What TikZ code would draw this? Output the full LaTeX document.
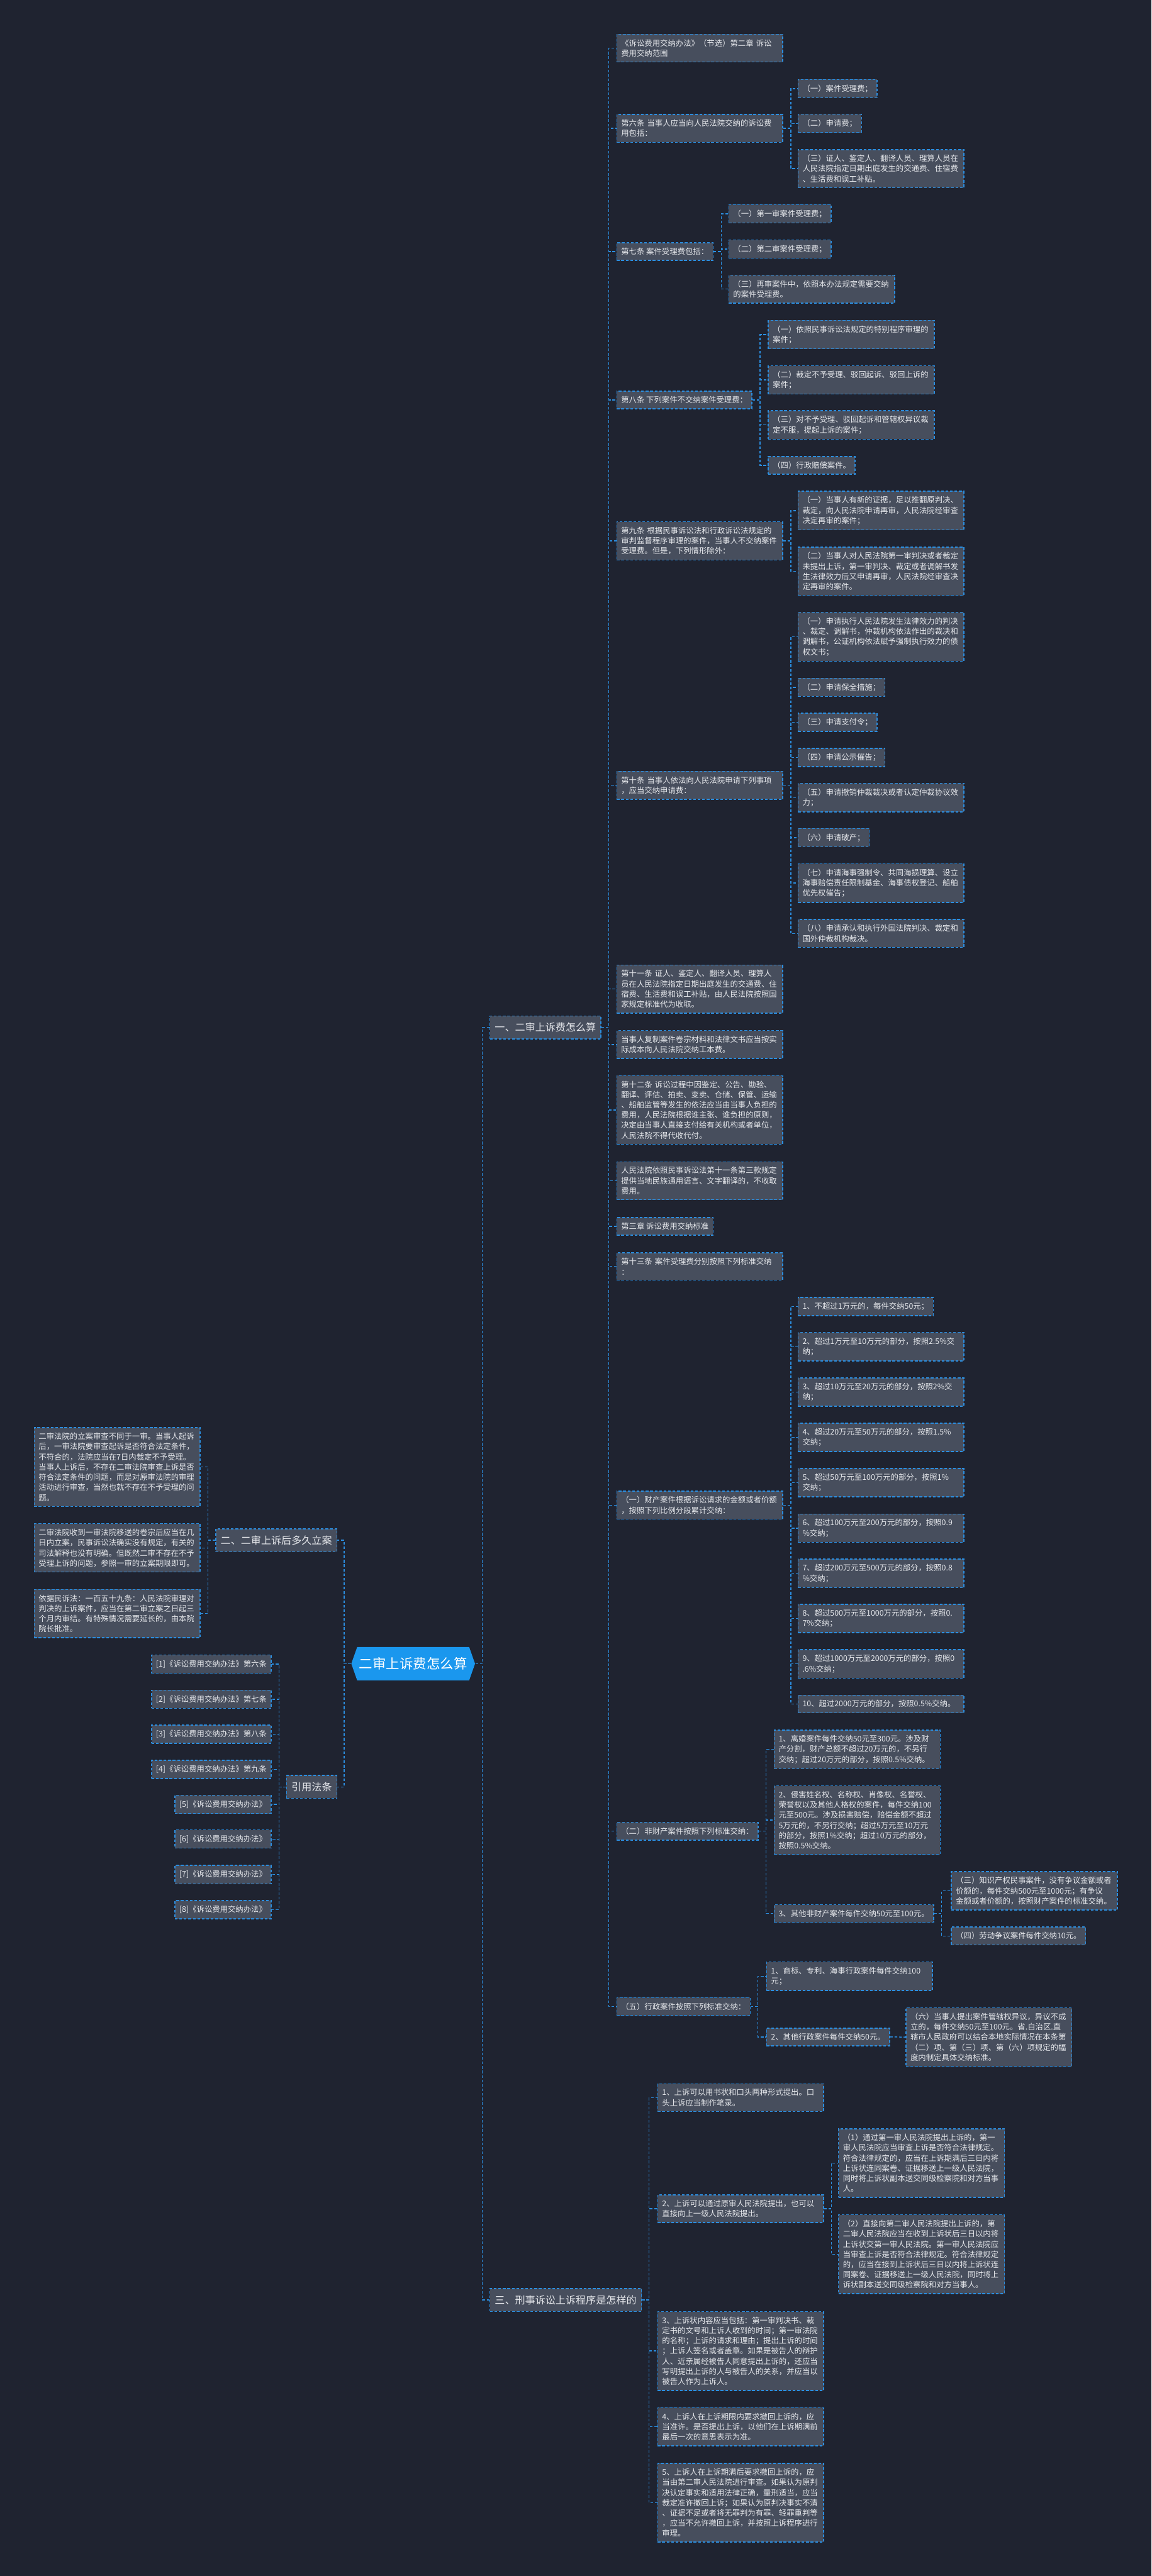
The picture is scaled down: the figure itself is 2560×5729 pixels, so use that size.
\documentclass[tikz,border=0pt]{standalone}
\usepackage{fontspec}
\setmainfont{Noto Sans CJK SC}

\definecolor{bgcol}{HTML}{1F2330}
\definecolor{boxfill}{HTML}{474E5D}
\definecolor{linkblue}{HTML}{2B8EE0}
\definecolor{txtcol}{HTML}{E6E8EC}
\definecolor{rootfill}{HTML}{1A97EE}

\tikzset{every picture/.style={line width=2pt}}
\tikzset{
  box/.style={draw=linkblue, dash pattern=on 6pt off 4pt, fill=boxfill, text=txtcol,
    inner xsep=10pt, inner ysep=11.5pt, font=\fontsize{17.3}{22.7}\selectfont},
  wide/.style={box, text width=349pt, align=left},
  branch/.style={box, inner xsep=11pt, inner ysep=15pt, font=\fontsize{22.5}{27}\selectfont},
  link/.style={draw=linkblue, dash pattern=on 6pt off 4pt},
}

\begin{document}
\begin{tikzpicture}[x=1pt,y=1pt,yscale=-1,xscale=1]
		\useasboundingbox (0,0) rectangle (2560,5729);
		\fill [bgcol] (0,0) rectangle (2560,5729);
		
		%Shape: Root hexagon
		\fill [rootfill] (781,3700) -- ++(13,-37) -- ++(249,0) -- ++(13,37) -- ++(-13,37) -- ++(-249,0) -- cycle;
		% Text Node
		\node [minimum width=275pt, minimum height=74pt, inner sep=0pt, text=white, font=\fontsize{30}{34}\selectfont] (root) at (918.5,3700) {二审上诉费怎么算};
		
		% Text Node
		\node [branch, anchor=west] (bA) at (1088,2285) {一、二审上诉费怎么算};
		% Text Node
		\node [branch, anchor=east] (bB) at (750,3425.5) {二、二审上诉后多久立案};
		% Text Node
		\node [branch, anchor=west] (bC) at (1088,5115) {三、刑事诉讼上诉程序是怎样的};
		% Text Node
		\node [branch, anchor=east] (bR) at (750,3974) {引用法条};
		
		% Text Node
		\node [wide, anchor=east] (l1) at (446,3262.5) {二审法院的立案审查不同于一审。当事人起诉\\后，一审法院要审查起诉是否符合法定条件，\\不符合的，法院应当在7日内裁定不予受理。\\当事人上诉后，不存在二审法院审查上诉是否\\符合法定条件的问题，而是对原审法院的审理\\活动进行审查，当然也就不存在不予受理的问\\题。};
		% Text Node
		\node [wide, anchor=east] (l2) at (446,3442.5) {二审法院收到一审法院移送的卷宗后应当在几\\日内立案，民事诉讼法确实没有规定，有关的\\司法解释也没有明确。但既然二审不存在不予\\受理上诉的问题，参照一审的立案期限即可。};
		% Text Node
		\node [wide, anchor=east] (l3) at (446,3588.5) {依据民诉法：一百五十九条：人民法院审理对\\判决的上诉案件，应当在第二审立案之日起三\\个月内审结。有特殊情况需要延长的，由本院\\院长批准。};
		
		% Text Node
		\node [box, anchor=east] (r1) at (604,3701) {[1]《诉讼费用交纳办法》第六条};
		\node [box, anchor=east] (r2) at (604,3779) {[2]《诉讼费用交纳办法》第七条};
		\node [box, anchor=east] (r3) at (604,3857) {[3]《诉讼费用交纳办法》第八条};
		\node [box, anchor=east] (r4) at (604,3935) {[4]《诉讼费用交纳办法》第九条};
		\node [box, anchor=east] (r5) at (604,4013) {[5]《诉讼费用交纳办法》};
		\node [box, anchor=east] (r6) at (604,4090) {[6]《诉讼费用交纳办法》};
		\node [box, anchor=east] (r7) at (604,4169) {[7]《诉讼费用交纳办法》};
		\node [box, anchor=east] (r8) at (604,4247) {[8]《诉讼费用交纳办法》};
		
		% Text Node
		\node [wide, anchor=west] (a1) at (1370,107) {《诉讼费用交纳办法》（节选）第二章 诉讼\\费用交纳范围};
		% Text Node
		\node [wide, anchor=west] (a2) at (1370,285.5) {第六条 当事人应当向人民法院交纳的诉讼费\\用包括：};
		\node [box, anchor=west] (a2a) at (1773,197) {（一）案件受理费；};
		\node [box, anchor=west] (a2b) at (1773,274.5) {（二）申请费；};
		\node [wide, anchor=west] (a2c) at (1773,375) {（三）证人、鉴定人、翻译人员、理算人员在\\人民法院指定日期出庭发生的交通费、住宿费\\、生活费和误工补贴。};
		% Text Node
		\node [box, anchor=west] (a3) at (1370,559.5) {第七条 案件受理费包括：};
		\node [box, anchor=west] (a3a) at (1619,475.5) {（一）第一审案件受理费；};
		\node [box, anchor=west] (a3b) at (1619,554) {（二）第二审案件受理费；};
		\node [wide, anchor=west] (a3c) at (1619,643) {（三）再审案件中，依照本办法规定需要交纳\\的案件受理费。};
		% Text Node
		\node [box, anchor=west] (a4) at (1370,889.5) {第八条 下列案件不交纳案件受理费：};
		\node [wide, anchor=west] (a4a) at (1707,744) {（一）依照民事诉讼法规定的特别程序审理的\\案件；};
		\node [wide, anchor=west] (a4b) at (1707,845) {（二）裁定不予受理、驳回起诉、驳回上诉的\\案件；};
		\node [wide, anchor=west] (a4c) at (1707,945) {（三）对不予受理、驳回起诉和管辖权异议裁\\定不服，提起上诉的案件；};
		\node [box, anchor=west] (a4d) at (1707,1035) {（四）行政赔偿案件。};
		% Text Node
		\node [wide, anchor=west] (a5) at (1370,1203) {第九条 根据民事诉讼法和行政诉讼法规定的\\审判监督程序审理的案件，当事人不交纳案件\\受理费。但是，下列情形除外：};
		\node [wide, anchor=west] (a5a) at (1773,1135.5) {（一）当事人有新的证据，足以推翻原判决、\\裁定，向人民法院申请再审，人民法院经审查\\决定再审的案件；};
		\node [wide, anchor=west] (a5b) at (1773,1270.5) {（二）当事人对人民法院第一审判决或者裁定\\未提出上诉，第一审判决、裁定或者调解书发\\生法律效力后又申请再审，人民法院经审查决\\定再审的案件。};
		% Text Node
		\node [wide, anchor=west] (a6) at (1370,1746.5) {第十条 当事人依法向人民法院申请下列事项\\，应当交纳申请费：};
		\node [wide, anchor=west] (a6a) at (1773,1416) {（一）申请执行人民法院发生法律效力的判决\\、裁定、调解书，仲裁机构依法作出的裁决和\\调解书，公证机构依法赋予强制执行效力的债\\权文书；};
		\node [box, anchor=west] (a6b) at (1773,1528.5) {（二）申请保全措施；};
		\node [box, anchor=west] (a6c) at (1773,1606.5) {（三）申请支付令；};
		\node [box, anchor=west] (a6d) at (1773,1684.5) {（四）申请公示催告；};
		\node [wide, anchor=west] (a6e) at (1773,1774) {（五）申请撤销仲裁裁决或者认定仲裁协议效\\力；};
		\node [box, anchor=west] (a6f) at (1773,1863) {（六）申请破产；};
		\node [wide, anchor=west] (a6g) at (1773,1964) {（七）申请海事强制令、共同海损理算、设立\\海事赔偿责任限制基金、海事债权登记、船舶\\优先权催告；};
		\node [wide, anchor=west] (a6h) at (1773,2076) {（八）申请承认和执行外国法院判决、裁定和\\国外仲裁机构裁决。};
		% Text Node
		\node [wide, anchor=west] (a7) at (1370,2199.5) {第十一条 证人、鉴定人、翻译人员、理算人\\员在人民法院指定日期出庭发生的交通费、住\\宿费、生活费和误工补贴，由人民法院按照国\\家规定标准代为收取。};
		% Text Node
		\node [wide, anchor=west] (a8) at (1370,2323) {当事人复制案件卷宗材料和法律文书应当按实\\际成本向人民法院交纳工本费。};
		% Text Node
		\node [wide, anchor=west] (a9) at (1370,2468.5) {第十二条 诉讼过程中因鉴定、公告、勘验、\\翻译、评估、拍卖、变卖、仓储、保管、运输\\、船舶监管等发生的依法应当由当事人负担的\\费用，人民法院根据谁主张、谁负担的原则，\\决定由当事人直接支付给有关机构或者单位，\\人民法院不得代收代付。};
		% Text Node
		\node [wide, anchor=west] (a10) at (1370,2626) {人民法院依照民事诉讼法第十一条第三款规定\\提供当地民族通用语言、文字翻译的，不收取\\费用。};
		% Text Node
		\node [box, anchor=west] (a11) at (1370,2727.5) {第三章 诉讼费用交纳标准};
		% Text Node
		\node [wide, anchor=west] (a12) at (1370,2816.5) {第十三条 案件受理费分别按照下列标准交纳\\：};
		% Text Node
		\node [wide, anchor=west] (a13) at (1370,3347.5) {（一）财产案件根据诉讼请求的金额或者价额\\，按照下列比例分段累计交纳：};
		\node [box, anchor=west] (a13a) at (1773,2905.5) {1、不超过1万元的，每件交纳50元；};
		\node [wide, anchor=west] (a13b) at (1773,2995) {2、超过1万元至10万元的部分，按照2.5\%交\\纳；};
		\node [wide, anchor=west] (a13c) at (1773,3096) {3、超过10万元至20万元的部分，按照2\%交\\纳；};
		\node [wide, anchor=west] (a13d) at (1773,3196.5) {4、超过20万元至50万元的部分，按照1.5\%\\交纳；};
		\node [wide, anchor=west] (a13e) at (1773,3297.5) {5、超过50万元至100万元的部分，按照1\%\\交纳；};
		\node [wide, anchor=west] (a13f) at (1773,3398.5) {6、超过100万元至200万元的部分，按照0.9\\\%交纳；};
		\node [wide, anchor=west] (a13g) at (1773,3499) {7、超过200万元至500万元的部分，按照0.8\\\%交纳；};
		\node [wide, anchor=west] (a13h) at (1773,3599.5) {8、超过500万元至1000万元的部分，按照0.\\7\%交纳；};
		\node [wide, anchor=west] (a13i) at (1773,3700.5) {9、超过1000万元至2000万元的部分，按照0\\.6\%交纳；};
		\node [wide, anchor=west] (a13j) at (1773,3789.5) {10、超过2000万元的部分，按照0.5\%交纳。};
		% Text Node
		\node [box, anchor=west] (a14) at (1370,4072.5) {（二）非财产案件按照下列标准交纳：};
		\node [wide, anchor=west] (a14a) at (1720,3890.5) {1、离婚案件每件交纳50元至300元。涉及财\\产分割，财产总额不超过20万元的，不另行\\交纳；超过20万元的部分，按照0.5\%交纳。};
		\node [wide, anchor=west] (a14b) at (1720,4048) {2、侵害姓名权、名称权、肖像权、名誉权、\\荣誉权以及其他人格权的案件，每件交纳100\\元至500元。涉及损害赔偿，赔偿金额不超过\\5万元的，不另行交纳；超过5万元至10万元\\的部分，按照1\%交纳；超过10万元的部分，\\按照0.5\%交纳。};
		\node [box, anchor=west] (a14c) at (1720,4255.5) {3、其他非财产案件每件交纳50元至100元。};
		\node [wide, anchor=west] (a14d) at (2114,4205) {（三）知识产权民事案件，没有争议金额或者\\价额的，每件交纳500元至1000元；有争议\\金额或者价额的，按照财产案件的标准交纳。};
		\node [box, anchor=west] (a14e) at (2114,4305.5) {（四）劳动争议案件每件交纳10元。};
		% Text Node
		\node [box, anchor=west] (a15) at (1370,4462.5) {（五）行政案件按照下列标准交纳：};
		\node [wide, anchor=west] (a15a) at (1703,4395) {1、商标、专利、海事行政案件每件交纳100\\元；};
		\node [box, anchor=west] (a15b) at (1703,4530) {2、其他行政案件每件交纳50元。};
		\node [wide, anchor=west] (a15c) at (2013,4530.5) {（六）当事人提出案件管辖权异议，异议不成\\立的，每件交纳50元至100元。省.自治区.直\\辖市人民政府可以结合本地实际情况在本条第\\（二）项、第（三）项、第（六）项规定的幅\\度内制定具体交纳标准。};
		
		% Text Node
		\node [wide, anchor=west] (c1) at (1461,4665) {1、上诉可以用书状和口头两种形式提出。口\\头上诉应当制作笔录。};
		\node [wide, anchor=west] (c2) at (1461,4912) {2、上诉可以通过原审人民法院提出，也可以\\直接向上一级人民法院提出。};
		\node [wide, anchor=west] (c2a) at (1863,4810.5) {（1）通过第一审人民法院提出上诉的，第一\\审人民法院应当审查上诉是否符合法律规定。\\符合法律规定的，应当在上诉期满后三日内将\\上诉状连同案卷、证据移送上一级人民法院，\\同时将上诉状副本送交同级检察院和对方当事\\人。};
		\node [wide, anchor=west] (c2b) at (1863,5013.5) {（2）直接向第二审人民法院提出上诉的，第\\二审人民法院应当在收到上诉状后三日以内将\\上诉状交第一审人民法院。第一审人民法院应\\当审查上诉是否符合法律规定。符合法律规定\\的，应当在接到上诉状后三日以内将上诉状连\\同案卷、证据移送上一级人民法院，同时将上\\诉状副本送交同级检察院和对方当事人。};
		\node [wide, anchor=west] (c3) at (1461,5228.5) {3、上诉状内容应当包括：第一审判决书、裁\\定书的文号和上诉人收到的时间；第一审法院\\的名称；上诉的请求和理由；提出上诉的时间\\；上诉人签名或者盖章。如果是被告人的辩护\\人、近亲属经被告人同意提出上诉的，还应当\\写明提出上诉的人与被告人的关系，并应当以\\被告人作为上诉人。};
		\node [wide, anchor=west] (c4) at (1461,5397) {4、上诉人在上诉期限内要求撤回上诉的，应\\当准许。是否提出上诉，以他们在上诉期满前\\最后一次的意思表示为准。};
		\node [wide, anchor=west] (c5) at (1461,5566) {5、上诉人在上诉期满后要求撤回上诉的，应\\当由第二审人民法院进行审查。如果认为原判\\决认定事实和适用法律正确，量刑适当，应当\\裁定准许撤回上诉；如果认为原判决事实不清\\、证据不足或者将无罪判为有罪、轻罪重判等\\，应当不允许撤回上诉，并按照上诉程序进行\\审理。};
		
		%Straight Lines: root to branches
		\foreach \b in {bA,bC} \draw [link] (root.east) -- ++(15,0) |- (\b.west);
		\foreach \b in {bB,bR} \draw [link] (root.west) -- ++(-15,0) |- (\b.east);
		%Straight Lines: left side
		\foreach \c in {l1,l2,l3} \draw [link] (bB.west) -- ++(-16,0) |- (\c.east);
		\foreach \c in {r1,r2,r3,r4,r5,r6,r7,r8} \draw [link] (bR.west) -- ++(-16,0) |- (\c.east);
		%Straight Lines: branch one
		\foreach \c in {a1,a2,a3,a4,a5,a6,a7,a8,a9,a10,a11,a12,a13,a14,a15} \draw [link] (bA.east) -- ++(16,0) |- (\c.west);
		\foreach \c in {a2a,a2b,a2c} \draw [link] (a2.east) -- ++(17,0) |- (\c.west);
		\foreach \c in {a3a,a3b,a3c} \draw [link] (a3.east) -- ++(17,0) |- (\c.west);
		\foreach \c in {a4a,a4b,a4c,a4d} \draw [link] (a4.east) -- ++(17,0) |- (\c.west);
		\foreach \c in {a5a,a5b} \draw [link] (a5.east) -- ++(17,0) |- (\c.west);
		\foreach \c in {a6a,a6b,a6c,a6d,a6e,a6f,a6g,a6h} \draw [link] (a6.east) -- ++(17,0) |- (\c.west);
		\foreach \c in {a13a,a13b,a13c,a13d,a13e,a13f,a13g,a13h,a13i,a13j} \draw [link] (a13.east) -- ++(17,0) |- (\c.west);
		\foreach \c in {a14a,a14b,a14c} \draw [link] (a14.east) -- ++(17,0) |- (\c.west);
		\foreach \c in {a14d,a14e} \draw [link] (a14c.east) -- ++(17,0) |- (\c.west);
		\foreach \c in {a15a,a15b} \draw [link] (a15.east) -- ++(16,0) |- (\c.west);
		\draw [link] (a15b.east) -- (a15c.west);
		%Straight Lines: branch three
		\foreach \c in {c1,c2,c3,c4,c5} \draw [link] (bC.east) -- ++(16,0) |- (\c.west);
		\foreach \c in {c2a,c2b} \draw [link] (c2.east) -- ++(16,0) |- (\c.west);
		
	\end{tikzpicture}
\end{document}
